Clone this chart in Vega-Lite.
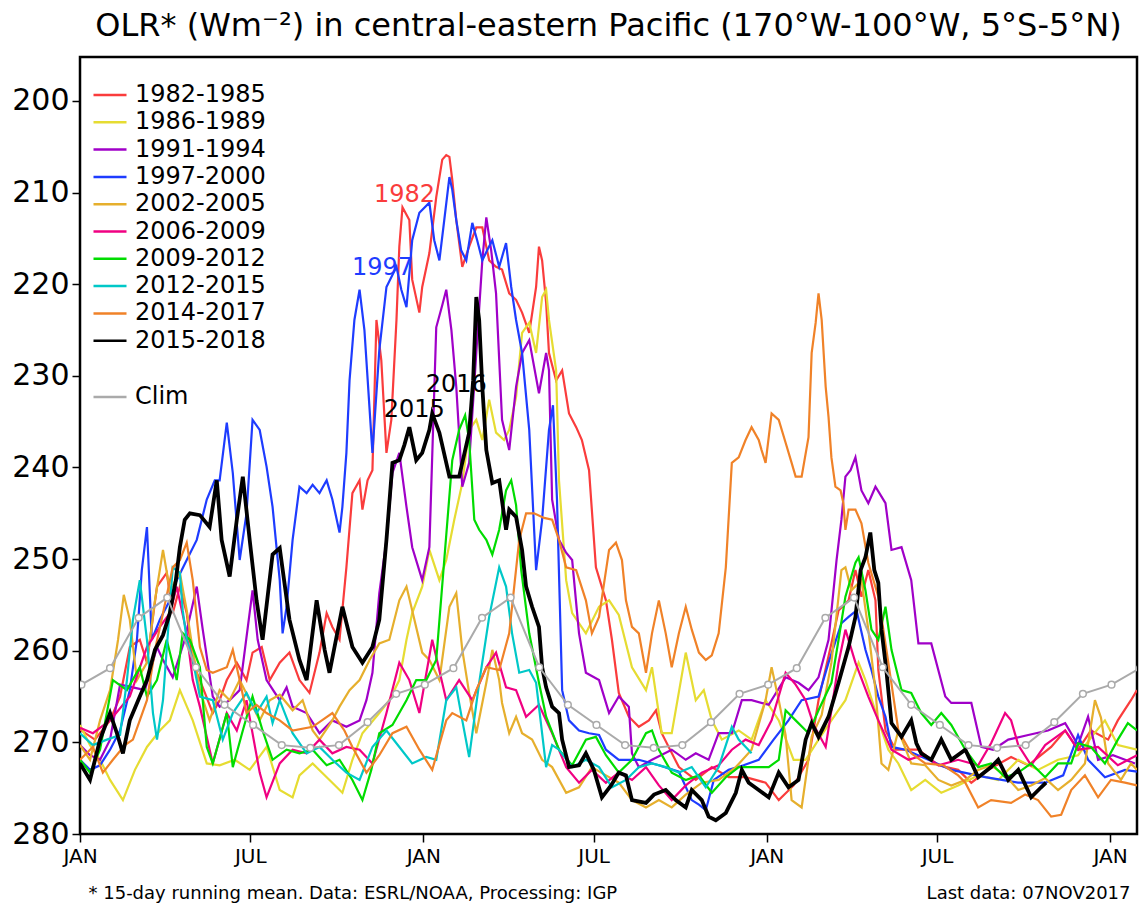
{
"$schema":"https://vega.github.io/schema/vega-lite/v6.json",
"width":1057,"height":777,
"autosize":{"type":"none"},
"padding":{"left":80,"top":57,"right":2,"bottom":73},
"background":"white",
"title":{"text":"OLR* (Wm⁻²) in central-eastern Pacific (170°W-100°W, 5°S-5°N)","font":"DejaVu Sans","fontSize":32,"fontWeight":"normal","color":"black","anchor":"middle","baseline":"bottom","offset":15,"dy":33},
"config":{
"view":{"stroke":"black","strokeWidth":2.5},
"axis":{"grid":false,"domain":false,"labelFont":"DejaVu Sans","titleFont":"DejaVu Sans","labelColor":"black","titleColor":"black","tickColor":"black","tickWidth":1.5},
"legend":{"orient":"none","symbolType":"M-3,0H3","symbolSize":121,"symbolStrokeWidth":2.5,"labelFont":"DejaVu Sans","labelFontSize":24,"labelColor":"black","labelOffset":13,"rowPadding":3.3,"padding":0,"title":null}
},
"datasets":{
"olr":[
{"s":"1982-1985","t":0,"v":268.6},{"s":"1982-1985","t":0.52,"v":269.7},{"s":"1982-1985","t":1.05,"v":267.6},{"s":"1982-1985","t":1.4,"v":265},{"s":"1982-1985","t":1.74,"v":259.6},{"s":"1982-1985","t":2.09,"v":258.8},{"s":"1982-1985","t":2.34,"v":261.3},{"s":"1982-1985","t":2.69,"v":253},{"s":"1982-1985","t":3.03,"v":251.5},{"s":"1982-1985","t":3.24,"v":255.9},{"s":"1982-1985","t":3.49,"v":253},{"s":"1982-1985","t":3.73,"v":255.9},{"s":"1982-1985","t":3.94,"v":261.3},{"s":"1982-1985","t":4.19,"v":263.2},{"s":"1982-1985","t":4.64,"v":266.8},{"s":"1982-1985","t":4.88,"v":265.4},{"s":"1982-1985","t":5.13,"v":263.2},{"s":"1982-1985","t":5.48,"v":261.3},{"s":"1982-1985","t":5.82,"v":263.2},{"s":"1982-1985","t":6.03,"v":260.2},{"s":"1982-1985","t":6.35,"v":259.6},{"s":"1982-1985","t":6.63,"v":263.2},{"s":"1982-1985","t":6.98,"v":261.3},{"s":"1982-1985","t":7.32,"v":260.2},{"s":"1982-1985","t":7.67,"v":263.2},{"s":"1982-1985","t":8.02,"v":264.6},{"s":"1982-1985","t":8.37,"v":260.2},{"s":"1982-1985","t":8.62,"v":255.9},{"s":"1982-1985","t":8.82,"v":257.4},{"s":"1982-1985","t":9.07,"v":258.8},{"s":"1982-1985","t":9.31,"v":250.9},{"s":"1982-1985","t":9.52,"v":242.8},{"s":"1982-1985","t":9.77,"v":241.4},{"s":"1982-1985","t":9.87,"v":244.6},{"s":"1982-1985","t":10.05,"v":241.4},{"s":"1982-1985","t":10.22,"v":240.3},{"s":"1982-1985","t":10.36,"v":223.9},{"s":"1982-1985","t":10.53,"v":228.3},{"s":"1982-1985","t":10.71,"v":238.4},{"s":"1982-1985","t":10.88,"v":234.8},{"s":"1982-1985","t":11.06,"v":223.9},{"s":"1982-1985","t":11.16,"v":215.9},{"s":"1982-1985","t":11.27,"v":211.6},{"s":"1982-1985","t":11.51,"v":213},{"s":"1982-1985","t":11.61,"v":219.5},{"s":"1982-1985","t":11.86,"v":223.1},{"s":"1982-1985","t":11.96,"v":220.3},{"s":"1982-1985","t":12.21,"v":216.6},{"s":"1982-1985","t":12.45,"v":210.5},{"s":"1982-1985","t":12.66,"v":206.4},{"s":"1982-1985","t":12.8,"v":205.9},{"s":"1982-1985","t":12.91,"v":206.1},{"s":"1982-1985","t":13.01,"v":208.6},{"s":"1982-1985","t":13.15,"v":213},{"s":"1982-1985","t":13.36,"v":218.1},{"s":"1982-1985","t":13.6,"v":215.9},{"s":"1982-1985","t":13.85,"v":213.8},{"s":"1982-1985","t":14.06,"v":213.8},{"s":"1982-1985","t":14.3,"v":217.4},{"s":"1982-1985","t":14.54,"v":218.1},{"s":"1982-1985","t":14.75,"v":218.4},{"s":"1982-1985","t":15,"v":221},{"s":"1982-1985","t":15.24,"v":221.7},{"s":"1982-1985","t":15.45,"v":223.1},{"s":"1982-1985","t":15.7,"v":225.3},{"s":"1982-1985","t":15.94,"v":220.3},{"s":"1982-1985","t":16.04,"v":215.9},{"s":"1982-1985","t":16.15,"v":217.4},{"s":"1982-1985","t":16.29,"v":222},{"s":"1982-1985","t":16.39,"v":227.5},{"s":"1982-1985","t":16.64,"v":230.5},{"s":"1982-1985","t":16.85,"v":229.4},{"s":"1982-1985","t":17.09,"v":234.1},{"s":"1982-1985","t":17.34,"v":235.6},{"s":"1982-1985","t":17.54,"v":237},{"s":"1982-1985","t":17.79,"v":240.3},{"s":"1982-1985","t":18.03,"v":250.9},{"s":"1982-1985","t":18.38,"v":254.5},{"s":"1982-1985","t":18.59,"v":258.8},{"s":"1982-1985","t":18.83,"v":264.6},{"s":"1982-1985","t":19.18,"v":267.2},{"s":"1982-1985","t":19.53,"v":268.3},{"s":"1982-1985","t":19.88,"v":267.6},{"s":"1982-1985","t":20.13,"v":266.5},{"s":"1982-1985","t":20.33,"v":269},{"s":"1982-1985","t":20.93,"v":272.7},{"s":"1982-1985","t":21.52,"v":274.1},{"s":"1982-1985","t":22.08,"v":272.7},{"s":"1982-1985","t":22.67,"v":273.8},{"s":"1982-1985","t":23.26,"v":273.8},{"s":"1982-1985","t":23.96,"v":274.4},{"s":"1982-1985","t":24.42,"v":276.3},{"s":"1982-1985","t":24.94,"v":274.7},{"s":"1982-1985","t":25.46,"v":271.9},{"s":"1982-1985","t":25.81,"v":265.4},{"s":"1982-1985","t":26.26,"v":259.2},{"s":"1982-1985","t":26.51,"v":255.6},{"s":"1982-1985","t":26.86,"v":254.5},{"s":"1982-1985","t":27.1,"v":251.2},{"s":"1982-1985","t":27.31,"v":254.1},{"s":"1982-1985","t":27.55,"v":251.2},{"s":"1982-1985","t":27.8,"v":254.5},{"s":"1982-1985","t":27.9,"v":262.1},{"s":"1982-1985","t":28.15,"v":268.7},{"s":"1982-1985","t":28.5,"v":270.8},{"s":"1982-1985","t":29.3,"v":270.8},{"s":"1982-1985","t":30,"v":272.5},{"s":"1982-1985","t":30.69,"v":273},{"s":"1982-1985","t":31.15,"v":274.4},{"s":"1982-1985","t":31.74,"v":273},{"s":"1982-1985","t":32.54,"v":271.6},{"s":"1982-1985","t":33.14,"v":272.5},{"s":"1982-1985","t":33.94,"v":270.5},{"s":"1982-1985","t":34.43,"v":268.7},{"s":"1982-1985","t":34.88,"v":270.8},{"s":"1982-1985","t":35.33,"v":268.7},{"s":"1982-1985","t":35.93,"v":269.7},{"s":"1982-1985","t":36.27,"v":267.6},{"s":"1982-1985","t":36.73,"v":265.4},{"s":"1982-1985","t":36.94,"v":264.3},
{"s":"1986-1989","t":0,"v":268.1},{"s":"1986-1989","t":0.35,"v":270.3},{"s":"1986-1989","t":0.7,"v":271.9},{"s":"1986-1989","t":1.05,"v":274.1},{"s":"1986-1989","t":1.5,"v":276.3},{"s":"1986-1989","t":1.92,"v":273},{"s":"1986-1989","t":2.34,"v":270.5},{"s":"1986-1989","t":2.79,"v":268.7},{"s":"1986-1989","t":3.14,"v":267.6},{"s":"1986-1989","t":3.49,"v":264.3},{"s":"1986-1989","t":3.94,"v":267.6},{"s":"1986-1989","t":4.43,"v":272.3},{"s":"1986-1989","t":4.88,"v":272.5},{"s":"1986-1989","t":5.41,"v":271.9},{"s":"1986-1989","t":5.93,"v":273},{"s":"1986-1989","t":6.52,"v":270.5},{"s":"1986-1989","t":6.98,"v":275.2},{"s":"1986-1989","t":7.43,"v":276},{"s":"1986-1989","t":7.67,"v":273.6},{"s":"1986-1989","t":8.13,"v":272.3},{"s":"1986-1989","t":8.72,"v":274.1},{"s":"1986-1989","t":9.17,"v":275.5},{"s":"1986-1989","t":9.52,"v":271.9},{"s":"1986-1989","t":9.87,"v":269},{"s":"1986-1989","t":10.46,"v":266.8},{"s":"1986-1989","t":10.81,"v":265.4},{"s":"1986-1989","t":11.16,"v":263.2},{"s":"1986-1989","t":11.41,"v":258.8},{"s":"1986-1989","t":11.61,"v":255.9},{"s":"1986-1989","t":11.96,"v":253},{"s":"1986-1989","t":12.21,"v":249},{"s":"1986-1989","t":12.56,"v":252.3},{"s":"1986-1989","t":12.8,"v":250.1},{"s":"1986-1989","t":13.08,"v":245.7},{"s":"1986-1989","t":13.36,"v":241.7},{"s":"1986-1989","t":13.6,"v":235.9},{"s":"1986-1989","t":13.85,"v":234.8},{"s":"1986-1989","t":14.06,"v":237},{"s":"1986-1989","t":14.3,"v":232.6},{"s":"1986-1989","t":14.54,"v":236.2},{"s":"1986-1989","t":14.82,"v":237},{"s":"1986-1989","t":15,"v":235.9},{"s":"1986-1989","t":15.24,"v":232.3},{"s":"1986-1989","t":15.45,"v":225.3},{"s":"1986-1989","t":15.7,"v":224.2},{"s":"1986-1989","t":15.94,"v":227.5},{"s":"1986-1989","t":16.15,"v":221.4},{"s":"1986-1989","t":16.29,"v":220.6},{"s":"1986-1989","t":16.39,"v":223.9},{"s":"1986-1989","t":16.64,"v":229.4},{"s":"1986-1989","t":16.74,"v":241.4},{"s":"1986-1989","t":16.99,"v":252.3},{"s":"1986-1989","t":17.2,"v":255.9},{"s":"1986-1989","t":17.68,"v":258.1},{"s":"1986-1989","t":18.14,"v":255.2},{"s":"1986-1989","t":18.49,"v":254.5},{"s":"1986-1989","t":18.83,"v":256.1},{"s":"1986-1989","t":19.29,"v":261.8},{"s":"1986-1989","t":19.78,"v":264.3},{"s":"1986-1989","t":19.99,"v":261.8},{"s":"1986-1989","t":20.33,"v":269},{"s":"1986-1989","t":20.68,"v":269},{"s":"1986-1989","t":21.17,"v":260.2},{"s":"1986-1989","t":21.52,"v":265.4},{"s":"1986-1989","t":21.8,"v":264.3},{"s":"1986-1989","t":22.08,"v":267.6},{"s":"1986-1989","t":22.43,"v":269.7},{"s":"1986-1989","t":23.02,"v":268.7},{"s":"1986-1989","t":23.47,"v":269.7},{"s":"1986-1989","t":23.96,"v":265.4},{"s":"1986-1989","t":24.42,"v":267.6},{"s":"1986-1989","t":24.94,"v":271.9},{"s":"1986-1989","t":25.36,"v":271.9},{"s":"1986-1989","t":25.81,"v":269.7},{"s":"1986-1989","t":26.26,"v":267.6},{"s":"1986-1989","t":26.75,"v":265.4},{"s":"1986-1989","t":27.21,"v":261.3},{"s":"1986-1989","t":27.45,"v":263.2},{"s":"1986-1989","t":27.9,"v":267.6},{"s":"1986-1989","t":28.25,"v":270.8},{"s":"1986-1989","t":28.6,"v":272.3},{"s":"1986-1989","t":29.05,"v":275.2},{"s":"1986-1989","t":29.54,"v":274.1},{"s":"1986-1989","t":30.1,"v":275.5},{"s":"1986-1989","t":30.69,"v":274.7},{"s":"1986-1989","t":31.39,"v":273.6},{"s":"1986-1989","t":32.09,"v":274.1},{"s":"1986-1989","t":32.79,"v":271.9},{"s":"1986-1989","t":33.48,"v":273},{"s":"1986-1989","t":34.18,"v":271.9},{"s":"1986-1989","t":34.88,"v":271.4},{"s":"1986-1989","t":35.4,"v":269.2},{"s":"1986-1989","t":35.82,"v":267.6},{"s":"1986-1989","t":36.27,"v":270.3},{"s":"1986-1989","t":36.94,"v":270.8},
{"s":"1991-1994","t":0,"v":270.3},{"s":"1991-1994","t":0.35,"v":271.4},{"s":"1991-1994","t":0.7,"v":271.9},{"s":"1991-1994","t":1.05,"v":269.7},{"s":"1991-1994","t":1.4,"v":263.7},{"s":"1991-1994","t":1.85,"v":264},{"s":"1991-1994","t":2.27,"v":264.3},{"s":"1991-1994","t":2.69,"v":259.6},{"s":"1991-1994","t":2.9,"v":261},{"s":"1991-1994","t":3.24,"v":262.9},{"s":"1991-1994","t":3.66,"v":258.8},{"s":"1991-1994","t":4.08,"v":253},{"s":"1991-1994","t":4.29,"v":257.7},{"s":"1991-1994","t":4.64,"v":265},{"s":"1991-1994","t":4.88,"v":266.1},{"s":"1991-1994","t":5.23,"v":265.4},{"s":"1991-1994","t":5.58,"v":264.3},{"s":"1991-1994","t":6.03,"v":253.4},{"s":"1991-1994","t":6.21,"v":258.8},{"s":"1991-1994","t":6.52,"v":263.2},{"s":"1991-1994","t":6.98,"v":265.4},{"s":"1991-1994","t":7.22,"v":264},{"s":"1991-1994","t":7.43,"v":266.1},{"s":"1991-1994","t":7.92,"v":266.8},{"s":"1991-1994","t":8.37,"v":269},{"s":"1991-1994","t":8.82,"v":267.6},{"s":"1991-1994","t":9.31,"v":268.3},{"s":"1991-1994","t":9.77,"v":267.6},{"s":"1991-1994","t":10.01,"v":265.4},{"s":"1991-1994","t":10.22,"v":262.4},{"s":"1991-1994","t":10.46,"v":253.7},{"s":"1991-1994","t":10.71,"v":247.9},{"s":"1991-1994","t":10.92,"v":240.6},{"s":"1991-1994","t":11.16,"v":238.4},{"s":"1991-1994","t":11.41,"v":244.3},{"s":"1991-1994","t":11.61,"v":248.7},{"s":"1991-1994","t":11.96,"v":252.3},{"s":"1991-1994","t":12.21,"v":248.7},{"s":"1991-1994","t":12.45,"v":224.7},{"s":"1991-1994","t":12.66,"v":222.3},{"s":"1991-1994","t":12.8,"v":220.6},{"s":"1991-1994","t":12.98,"v":225},{"s":"1991-1994","t":13.15,"v":231.2},{"s":"1991-1994","t":13.36,"v":242.1},{"s":"1991-1994","t":13.6,"v":239.5},{"s":"1991-1994","t":13.85,"v":227.5},{"s":"1991-1994","t":14.06,"v":217.4},{"s":"1991-1994","t":14.2,"v":212.7},{"s":"1991-1994","t":14.37,"v":216.3},{"s":"1991-1994","t":14.54,"v":221},{"s":"1991-1994","t":14.75,"v":234.8},{"s":"1991-1994","t":15,"v":238.1},{"s":"1991-1994","t":15.24,"v":231.2},{"s":"1991-1994","t":15.45,"v":227.5},{"s":"1991-1994","t":15.7,"v":226.1},{"s":"1991-1994","t":16.04,"v":231.9},{"s":"1991-1994","t":16.29,"v":227.5},{"s":"1991-1994","t":16.39,"v":229.4},{"s":"1991-1994","t":16.5,"v":243.5},{"s":"1991-1994","t":16.74,"v":247.9},{"s":"1991-1994","t":16.99,"v":249.3},{"s":"1991-1994","t":17.2,"v":250.1},{"s":"1991-1994","t":17.44,"v":258.1},{"s":"1991-1994","t":17.68,"v":262.4},{"s":"1991-1994","t":18.14,"v":263.2},{"s":"1991-1994","t":18.49,"v":266.8},{"s":"1991-1994","t":18.83,"v":265},{"s":"1991-1994","t":19.18,"v":266.1},{"s":"1991-1994","t":19.29,"v":271.2},{"s":"1991-1994","t":19.53,"v":272.7},{"s":"1991-1994","t":19.99,"v":271.9},{"s":"1991-1994","t":20.68,"v":270.8},{"s":"1991-1994","t":21.17,"v":271.9},{"s":"1991-1994","t":21.52,"v":271.2},{"s":"1991-1994","t":21.97,"v":271.9},{"s":"1991-1994","t":22.32,"v":269},{"s":"1991-1994","t":22.78,"v":269},{"s":"1991-1994","t":23.13,"v":265.4},{"s":"1991-1994","t":23.47,"v":265.4},{"s":"1991-1994","t":24.07,"v":265.9},{"s":"1991-1994","t":24.66,"v":262.9},{"s":"1991-1994","t":25.11,"v":263.5},{"s":"1991-1994","t":25.46,"v":264.3},{"s":"1991-1994","t":25.81,"v":262.9},{"s":"1991-1994","t":26.16,"v":258.8},{"s":"1991-1994","t":26.44,"v":250.1},{"s":"1991-1994","t":26.61,"v":245.7},{"s":"1991-1994","t":26.75,"v":241},{"s":"1991-1994","t":26.93,"v":240.3},{"s":"1991-1994","t":27.1,"v":238.9},{"s":"1991-1994","t":27.31,"v":242.5},{"s":"1991-1994","t":27.55,"v":243.9},{"s":"1991-1994","t":27.8,"v":242.1},{"s":"1991-1994","t":28.15,"v":243.9},{"s":"1991-1994","t":28.36,"v":249},{"s":"1991-1994","t":28.71,"v":248.7},{"s":"1991-1994","t":29.05,"v":252.3},{"s":"1991-1994","t":29.3,"v":259.2},{"s":"1991-1994","t":29.75,"v":259.2},{"s":"1991-1994","t":30.24,"v":265},{"s":"1991-1994","t":30.45,"v":265.7},{"s":"1991-1994","t":31.15,"v":265.7},{"s":"1991-1994","t":31.5,"v":270.5},{"s":"1991-1994","t":31.91,"v":270.8},{"s":"1991-1994","t":32.44,"v":269.7},{"s":"1991-1994","t":33.14,"v":269.2},{"s":"1991-1994","t":33.83,"v":268.7},{"s":"1991-1994","t":34.43,"v":267.9},{"s":"1991-1994","t":34.88,"v":270.3},{"s":"1991-1994","t":35.23,"v":267.2},{"s":"1991-1994","t":35.58,"v":271.9},{"s":"1991-1994","t":36.1,"v":271.4},{"s":"1991-1994","t":36.87,"v":272.3},
{"s":"1997-2000","t":0,"v":271.9},{"s":"1997-2000","t":0.35,"v":273},{"s":"1997-2000","t":0.7,"v":272.5},{"s":"1997-2000","t":1.05,"v":270.8},{"s":"1997-2000","t":1.4,"v":268.7},{"s":"1997-2000","t":1.74,"v":264.3},{"s":"1997-2000","t":1.99,"v":258.8},{"s":"1997-2000","t":2.16,"v":251.2},{"s":"1997-2000","t":2.34,"v":246.5},{"s":"1997-2000","t":2.51,"v":258.8},{"s":"1997-2000","t":2.79,"v":256.6},{"s":"1997-2000","t":3.14,"v":254.5},{"s":"1997-2000","t":3.38,"v":252.3},{"s":"1997-2000","t":3.73,"v":250.1},{"s":"1997-2000","t":4.08,"v":247.9},{"s":"1997-2000","t":4.43,"v":243.5},{"s":"1997-2000","t":4.71,"v":241.4},{"s":"1997-2000","t":4.88,"v":241.4},{"s":"1997-2000","t":5.13,"v":235.1},{"s":"1997-2000","t":5.34,"v":240.6},{"s":"1997-2000","t":5.58,"v":250.1},{"s":"1997-2000","t":5.82,"v":245},{"s":"1997-2000","t":6.03,"v":234.8},{"s":"1997-2000","t":6.28,"v":235.9},{"s":"1997-2000","t":6.52,"v":239.9},{"s":"1997-2000","t":6.73,"v":244.3},{"s":"1997-2000","t":6.98,"v":252.3},{"s":"1997-2000","t":7.08,"v":258.1},{"s":"1997-2000","t":7.22,"v":255.2},{"s":"1997-2000","t":7.43,"v":247.9},{"s":"1997-2000","t":7.67,"v":242.1},{"s":"1997-2000","t":7.92,"v":242.8},{"s":"1997-2000","t":8.13,"v":241.9},{"s":"1997-2000","t":8.37,"v":242.8},{"s":"1997-2000","t":8.62,"v":241.4},{"s":"1997-2000","t":8.82,"v":243.5},{"s":"1997-2000","t":9.07,"v":247.1},{"s":"1997-2000","t":9.17,"v":244.3},{"s":"1997-2000","t":9.31,"v":238.4},{"s":"1997-2000","t":9.42,"v":230.5},{"s":"1997-2000","t":9.59,"v":223.9},{"s":"1997-2000","t":9.77,"v":220.6},{"s":"1997-2000","t":9.94,"v":225},{"s":"1997-2000","t":10.22,"v":238.4},{"s":"1997-2000","t":10.46,"v":227.2},{"s":"1997-2000","t":10.71,"v":220.3},{"s":"1997-2000","t":11.06,"v":218.1},{"s":"1997-2000","t":11.23,"v":220.6},{"s":"1997-2000","t":11.41,"v":222.5},{"s":"1997-2000","t":11.61,"v":215.2},{"s":"1997-2000","t":11.86,"v":212.2},{"s":"1997-2000","t":12.21,"v":211.1},{"s":"1997-2000","t":12.38,"v":215.2},{"s":"1997-2000","t":12.56,"v":217.4},{"s":"1997-2000","t":12.73,"v":213},{"s":"1997-2000","t":12.91,"v":208.3},{"s":"1997-2000","t":13.01,"v":209.7},{"s":"1997-2000","t":13.15,"v":213},{"s":"1997-2000","t":13.32,"v":216.3},{"s":"1997-2000","t":13.5,"v":217.4},{"s":"1997-2000","t":13.71,"v":213.3},{"s":"1997-2000","t":13.88,"v":215.2},{"s":"1997-2000","t":14.06,"v":217.4},{"s":"1997-2000","t":14.23,"v":216.3},{"s":"1997-2000","t":14.41,"v":215.2},{"s":"1997-2000","t":14.65,"v":218.1},{"s":"1997-2000","t":14.89,"v":215.5},{"s":"1997-2000","t":15.07,"v":220.3},{"s":"1997-2000","t":15.24,"v":223.9},{"s":"1997-2000","t":15.45,"v":227.5},{"s":"1997-2000","t":15.7,"v":235.9},{"s":"1997-2000","t":15.94,"v":251.2},{"s":"1997-2000","t":16.15,"v":245.7},{"s":"1997-2000","t":16.39,"v":235.9},{"s":"1997-2000","t":16.53,"v":233.2},{"s":"1997-2000","t":16.67,"v":243.5},{"s":"1997-2000","t":16.85,"v":264.3},{"s":"1997-2000","t":17.09,"v":267.6},{"s":"1997-2000","t":17.44,"v":268.7},{"s":"1997-2000","t":17.79,"v":269},{"s":"1997-2000","t":18.14,"v":269.2},{"s":"1997-2000","t":18.38,"v":270.8},{"s":"1997-2000","t":18.83,"v":271.9},{"s":"1997-2000","t":19.53,"v":271.9},{"s":"1997-2000","t":20.23,"v":272.5},{"s":"1997-2000","t":20.93,"v":273.2},{"s":"1997-2000","t":21.38,"v":276.3},{"s":"1997-2000","t":21.63,"v":276.8},{"s":"1997-2000","t":21.87,"v":277.4},{"s":"1997-2000","t":22.15,"v":274.1},{"s":"1997-2000","t":22.67,"v":273},{"s":"1997-2000","t":23.19,"v":272.5},{"s":"1997-2000","t":23.72,"v":271.9},{"s":"1997-2000","t":24.24,"v":269.7},{"s":"1997-2000","t":24.76,"v":267.6},{"s":"1997-2000","t":25.22,"v":265.4},{"s":"1997-2000","t":25.81,"v":265},{"s":"1997-2000","t":26.16,"v":261.3},{"s":"1997-2000","t":26.61,"v":257},{"s":"1997-2000","t":26.86,"v":256.3},{"s":"1997-2000","t":27.14,"v":255.6},{"s":"1997-2000","t":27.45,"v":259.9},{"s":"1997-2000","t":27.66,"v":262.1},{"s":"1997-2000","t":27.9,"v":265},{"s":"1997-2000","t":28.15,"v":267.2},{"s":"1997-2000","t":28.36,"v":270.5},{"s":"1997-2000","t":28.85,"v":270.8},{"s":"1997-2000","t":29.65,"v":271.9},{"s":"1997-2000","t":30.45,"v":273},{"s":"1997-2000","t":31.64,"v":273.8},{"s":"1997-2000","t":32.79,"v":274.4},{"s":"1997-2000","t":33.73,"v":274.4},{"s":"1997-2000","t":34.36,"v":273.6},{"s":"1997-2000","t":34.88,"v":269.2},{"s":"1997-2000","t":35.23,"v":271.9},{"s":"1997-2000","t":35.82,"v":273.8},{"s":"1997-2000","t":36.52,"v":273},{"s":"1997-2000","t":36.94,"v":273.2},
{"s":"2002-2005","t":0,"v":270.3},{"s":"2002-2005","t":0.35,"v":271.9},{"s":"2002-2005","t":0.7,"v":267.6},{"s":"2002-2005","t":1.05,"v":264.3},{"s":"2002-2005","t":1.33,"v":258.8},{"s":"2002-2005","t":1.53,"v":253.9},{"s":"2002-2005","t":1.74,"v":256.6},{"s":"2002-2005","t":1.99,"v":263.2},{"s":"2002-2005","t":2.34,"v":261.3},{"s":"2002-2005","t":2.62,"v":254.5},{"s":"2002-2005","t":2.9,"v":249},{"s":"2002-2005","t":3.14,"v":253.4},{"s":"2002-2005","t":3.49,"v":251.5},{"s":"2002-2005","t":3.73,"v":255.6},{"s":"2002-2005","t":3.94,"v":259.9},{"s":"2002-2005","t":4.19,"v":264.3},{"s":"2002-2005","t":4.53,"v":267.6},{"s":"2002-2005","t":4.88,"v":264.3},{"s":"2002-2005","t":5.23,"v":265.4},{"s":"2002-2005","t":5.58,"v":263.2},{"s":"2002-2005","t":5.93,"v":265.4},{"s":"2002-2005","t":6.28,"v":267.6},{"s":"2002-2005","t":6.63,"v":265.4},{"s":"2002-2005","t":6.98,"v":264.8},{"s":"2002-2005","t":7.43,"v":266.5},{"s":"2002-2005","t":7.78,"v":265.4},{"s":"2002-2005","t":8.13,"v":268.7},{"s":"2002-2005","t":8.37,"v":269.7},{"s":"2002-2005","t":8.82,"v":267.6},{"s":"2002-2005","t":9.07,"v":266.1},{"s":"2002-2005","t":9.42,"v":264.3},{"s":"2002-2005","t":9.77,"v":263.2},{"s":"2002-2005","t":10.12,"v":261},{"s":"2002-2005","t":10.46,"v":259.2},{"s":"2002-2005","t":10.81,"v":258.8},{"s":"2002-2005","t":11.16,"v":254.5},{"s":"2002-2005","t":11.41,"v":253},{"s":"2002-2005","t":11.61,"v":255.6},{"s":"2002-2005","t":11.96,"v":260.2},{"s":"2002-2005","t":12.21,"v":261},{"s":"2002-2005","t":12.56,"v":263.2},{"s":"2002-2005","t":12.91,"v":255.2},{"s":"2002-2005","t":13.15,"v":253.7},{"s":"2002-2005","t":13.36,"v":259.9},{"s":"2002-2005","t":13.6,"v":264.6},{"s":"2002-2005","t":13.85,"v":269},{"s":"2002-2005","t":14.2,"v":263.5},{"s":"2002-2005","t":14.41,"v":259.9},{"s":"2002-2005","t":14.65,"v":263.2},{"s":"2002-2005","t":14.75,"v":265.7},{"s":"2002-2005","t":15,"v":269},{"s":"2002-2005","t":15.24,"v":267.2},{"s":"2002-2005","t":15.45,"v":269},{"s":"2002-2005","t":15.8,"v":269.7},{"s":"2002-2005","t":16.15,"v":271.9},{"s":"2002-2005","t":16.5,"v":272.7},{"s":"2002-2005","t":16.99,"v":275.5},{"s":"2002-2005","t":17.44,"v":274.9},{"s":"2002-2005","t":17.89,"v":272.7},{"s":"2002-2005","t":18.38,"v":273.6},{"s":"2002-2005","t":18.83,"v":274.4},{"s":"2002-2005","t":19.29,"v":276.3},{"s":"2002-2005","t":19.78,"v":277.1},{"s":"2002-2005","t":20.23,"v":276.3},{"s":"2002-2005","t":20.68,"v":277.1},{"s":"2002-2005","t":21.17,"v":275.7},{"s":"2002-2005","t":21.73,"v":274.4},{"s":"2002-2005","t":22.32,"v":274.1},{"s":"2002-2005","t":22.92,"v":272.7},{"s":"2002-2005","t":23.47,"v":270.8},{"s":"2002-2005","t":23.96,"v":265.4},{"s":"2002-2005","t":24.17,"v":261.8},{"s":"2002-2005","t":24.42,"v":265.4},{"s":"2002-2005","t":24.66,"v":269.2},{"s":"2002-2005","t":24.87,"v":276.3},{"s":"2002-2005","t":25.22,"v":277.1},{"s":"2002-2005","t":25.57,"v":269.4},{"s":"2002-2005","t":25.92,"v":267},{"s":"2002-2005","t":26.26,"v":261.3},{"s":"2002-2005","t":26.61,"v":251.2},{"s":"2002-2005","t":26.75,"v":250.9},{"s":"2002-2005","t":26.96,"v":253.4},{"s":"2002-2005","t":27.31,"v":252.3},{"s":"2002-2005","t":27.55,"v":257.7},{"s":"2002-2005","t":27.8,"v":264.3},{"s":"2002-2005","t":28.01,"v":272.3},{"s":"2002-2005","t":28.25,"v":273},{"s":"2002-2005","t":28.6,"v":268.7},{"s":"2002-2005","t":29.05,"v":272.3},{"s":"2002-2005","t":29.54,"v":272.5},{"s":"2002-2005","t":30,"v":274.1},{"s":"2002-2005","t":30.45,"v":274.7},{"s":"2002-2005","t":30.94,"v":274.1},{"s":"2002-2005","t":31.39,"v":273},{"s":"2002-2005","t":31.84,"v":272.5},{"s":"2002-2005","t":32.33,"v":273.6},{"s":"2002-2005","t":32.79,"v":275.2},{"s":"2002-2005","t":33.24,"v":274.7},{"s":"2002-2005","t":33.73,"v":273.9},{"s":"2002-2005","t":34.18,"v":275.2},{"s":"2002-2005","t":34.64,"v":274.1},{"s":"2002-2005","t":35.12,"v":272.3},{"s":"2002-2005","t":35.47,"v":265.4},{"s":"2002-2005","t":35.68,"v":267.3},{"s":"2002-2005","t":35.93,"v":272.3},{"s":"2002-2005","t":36.38,"v":274.1},{"s":"2002-2005","t":36.73,"v":272.3},{"s":"2002-2005","t":36.94,"v":273},
{"s":"2006-2009","t":0,"v":268.4},{"s":"2006-2009","t":0.45,"v":269},{"s":"2006-2009","t":1.05,"v":267.6},{"s":"2006-2009","t":1.74,"v":265},{"s":"2006-2009","t":2.34,"v":259.6},{"s":"2006-2009","t":2.79,"v":257.4},{"s":"2006-2009","t":3.14,"v":255.9},{"s":"2006-2009","t":3.38,"v":253},{"s":"2006-2009","t":3.73,"v":258.1},{"s":"2006-2009","t":3.94,"v":263.2},{"s":"2006-2009","t":4.19,"v":266.1},{"s":"2006-2009","t":4.64,"v":272.3},{"s":"2006-2009","t":5.13,"v":266.8},{"s":"2006-2009","t":5.48,"v":268.7},{"s":"2006-2009","t":5.82,"v":265.4},{"s":"2006-2009","t":6.28,"v":273.3},{"s":"2006-2009","t":6.52,"v":276},{"s":"2006-2009","t":6.98,"v":272.3},{"s":"2006-2009","t":7.43,"v":270.8},{"s":"2006-2009","t":7.92,"v":271.2},{"s":"2006-2009","t":8.37,"v":269.7},{"s":"2006-2009","t":8.82,"v":271.2},{"s":"2006-2009","t":9.31,"v":270.5},{"s":"2006-2009","t":9.77,"v":270.8},{"s":"2006-2009","t":10.22,"v":272.3},{"s":"2006-2009","t":10.71,"v":266.8},{"s":"2006-2009","t":11.16,"v":261.3},{"s":"2006-2009","t":11.51,"v":263.2},{"s":"2006-2009","t":11.86,"v":266.8},{"s":"2006-2009","t":12.31,"v":258.8},{"s":"2006-2009","t":12.8,"v":265.4},{"s":"2006-2009","t":13.25,"v":263.2},{"s":"2006-2009","t":13.71,"v":265.4},{"s":"2006-2009","t":14.2,"v":261.8},{"s":"2006-2009","t":14.54,"v":260.2},{"s":"2006-2009","t":14.89,"v":264},{"s":"2006-2009","t":15.24,"v":264.3},{"s":"2006-2009","t":15.59,"v":267.2},{"s":"2006-2009","t":16.04,"v":265.9},{"s":"2006-2009","t":16.5,"v":269},{"s":"2006-2009","t":16.99,"v":272.7},{"s":"2006-2009","t":17.44,"v":274.4},{"s":"2006-2009","t":17.89,"v":273},{"s":"2006-2009","t":18.38,"v":274.4},{"s":"2006-2009","t":18.83,"v":273.3},{"s":"2006-2009","t":19.29,"v":274.1},{"s":"2006-2009","t":19.78,"v":272.7},{"s":"2006-2009","t":20.23,"v":274.7},{"s":"2006-2009","t":20.68,"v":276.3},{"s":"2006-2009","t":21.17,"v":274.7},{"s":"2006-2009","t":21.73,"v":273.3},{"s":"2006-2009","t":22.32,"v":272.5},{"s":"2006-2009","t":22.78,"v":270.8},{"s":"2006-2009","t":23.26,"v":269.7},{"s":"2006-2009","t":23.72,"v":270.3},{"s":"2006-2009","t":24.17,"v":267.6},{"s":"2006-2009","t":24.66,"v":262.4},{"s":"2006-2009","t":25.01,"v":263.7},{"s":"2006-2009","t":25.36,"v":265.4},{"s":"2006-2009","t":25.64,"v":268.1},{"s":"2006-2009","t":26.06,"v":270.5},{"s":"2006-2009","t":26.26,"v":266.5},{"s":"2006-2009","t":26.51,"v":261.3},{"s":"2006-2009","t":26.75,"v":257.7},{"s":"2006-2009","t":27.1,"v":261.3},{"s":"2006-2009","t":27.55,"v":265},{"s":"2006-2009","t":27.9,"v":267.6},{"s":"2006-2009","t":28.36,"v":270.8},{"s":"2006-2009","t":28.95,"v":271.9},{"s":"2006-2009","t":29.47,"v":271.4},{"s":"2006-2009","t":30,"v":272.5},{"s":"2006-2009","t":30.69,"v":271.9},{"s":"2006-2009","t":31.39,"v":272.5},{"s":"2006-2009","t":31.84,"v":270.1},{"s":"2006-2009","t":32.33,"v":266.8},{"s":"2006-2009","t":32.54,"v":267.6},{"s":"2006-2009","t":32.79,"v":270.3},{"s":"2006-2009","t":33.24,"v":272.5},{"s":"2006-2009","t":33.73,"v":270.3},{"s":"2006-2009","t":34.43,"v":268.7},{"s":"2006-2009","t":34.88,"v":270.8},{"s":"2006-2009","t":35.58,"v":270.5},{"s":"2006-2009","t":36.27,"v":272.5},{"s":"2006-2009","t":36.94,"v":271.4},
{"s":"2009-2012","t":0,"v":271.9},{"s":"2009-2012","t":0.35,"v":273.3},{"s":"2009-2012","t":0.7,"v":270.8},{"s":"2009-2012","t":1.15,"v":263.2},{"s":"2009-2012","t":1.64,"v":264.3},{"s":"2009-2012","t":2.09,"v":261.8},{"s":"2009-2012","t":2.34,"v":265},{"s":"2009-2012","t":2.69,"v":263.2},{"s":"2009-2012","t":3.03,"v":258.8},{"s":"2009-2012","t":3.38,"v":263.2},{"s":"2009-2012","t":3.59,"v":258.1},{"s":"2009-2012","t":3.84,"v":258.8},{"s":"2009-2012","t":4.19,"v":261.8},{"s":"2009-2012","t":4.43,"v":270.5},{"s":"2009-2012","t":4.64,"v":272.3},{"s":"2009-2012","t":5.13,"v":266.8},{"s":"2009-2012","t":5.34,"v":272.7},{"s":"2009-2012","t":5.69,"v":268.7},{"s":"2009-2012","t":6.03,"v":265},{"s":"2009-2012","t":6.38,"v":268.7},{"s":"2009-2012","t":6.73,"v":271.9},{"s":"2009-2012","t":7.22,"v":270.8},{"s":"2009-2012","t":7.67,"v":271.2},{"s":"2009-2012","t":8.13,"v":270.8},{"s":"2009-2012","t":8.62,"v":272.5},{"s":"2009-2012","t":9.07,"v":271.9},{"s":"2009-2012","t":9.52,"v":274.1},{"s":"2009-2012","t":9.87,"v":276.3},{"s":"2009-2012","t":10.18,"v":273},{"s":"2009-2012","t":10.46,"v":269},{"s":"2009-2012","t":10.92,"v":268.1},{"s":"2009-2012","t":11.41,"v":265.4},{"s":"2009-2012","t":11.75,"v":263.2},{"s":"2009-2012","t":12.1,"v":263.2},{"s":"2009-2012","t":12.45,"v":261},{"s":"2009-2012","t":12.73,"v":250.1},{"s":"2009-2012","t":13.01,"v":239.2},{"s":"2009-2012","t":13.25,"v":235.9},{"s":"2009-2012","t":13.46,"v":234.3},{"s":"2009-2012","t":13.6,"v":237},{"s":"2009-2012","t":13.78,"v":245.7},{"s":"2009-2012","t":13.95,"v":246.8},{"s":"2009-2012","t":14.2,"v":247.9},{"s":"2009-2012","t":14.41,"v":249.5},{"s":"2009-2012","t":14.65,"v":246.8},{"s":"2009-2012","t":14.89,"v":242.5},{"s":"2009-2012","t":15.07,"v":241.4},{"s":"2009-2012","t":15.24,"v":244.1},{"s":"2009-2012","t":15.42,"v":251.2},{"s":"2009-2012","t":15.7,"v":258.1},{"s":"2009-2012","t":16.04,"v":263.5},{"s":"2009-2012","t":16.29,"v":267.2},{"s":"2009-2012","t":16.74,"v":270.8},{"s":"2009-2012","t":17.2,"v":272.5},{"s":"2009-2012","t":17.68,"v":269.7},{"s":"2009-2012","t":18.03,"v":269.4},{"s":"2009-2012","t":18.38,"v":271.4},{"s":"2009-2012","t":18.83,"v":273.3},{"s":"2009-2012","t":19.29,"v":271.9},{"s":"2009-2012","t":19.78,"v":269},{"s":"2009-2012","t":19.99,"v":268.7},{"s":"2009-2012","t":20.23,"v":270.8},{"s":"2009-2012","t":20.68,"v":273.3},{"s":"2009-2012","t":21.17,"v":274.1},{"s":"2009-2012","t":21.63,"v":273.6},{"s":"2009-2012","t":22.08,"v":275.5},{"s":"2009-2012","t":22.57,"v":273.8},{"s":"2009-2012","t":23.02,"v":272.7},{"s":"2009-2012","t":23.54,"v":272.7},{"s":"2009-2012","t":24.07,"v":272.7},{"s":"2009-2012","t":24.42,"v":271.9},{"s":"2009-2012","t":24.66,"v":266.5},{"s":"2009-2012","t":25.01,"v":267.6},{"s":"2009-2012","t":25.46,"v":269},{"s":"2009-2012","t":25.81,"v":266.5},{"s":"2009-2012","t":26.26,"v":263.5},{"s":"2009-2012","t":26.51,"v":258.8},{"s":"2009-2012","t":26.75,"v":254.1},{"s":"2009-2012","t":27.1,"v":250.4},{"s":"2009-2012","t":27.21,"v":249.8},{"s":"2009-2012","t":27.45,"v":253.4},{"s":"2009-2012","t":27.66,"v":257.7},{"s":"2009-2012","t":27.9,"v":258.8},{"s":"2009-2012","t":28.15,"v":255.2},{"s":"2009-2012","t":28.36,"v":259.9},{"s":"2009-2012","t":28.71,"v":264.3},{"s":"2009-2012","t":29.05,"v":264.6},{"s":"2009-2012","t":29.4,"v":266.8},{"s":"2009-2012","t":29.75,"v":268.1},{"s":"2009-2012","t":30.1,"v":266.8},{"s":"2009-2012","t":30.45,"v":268.1},{"s":"2009-2012","t":30.94,"v":270.8},{"s":"2009-2012","t":31.39,"v":272.7},{"s":"2009-2012","t":31.84,"v":272.3},{"s":"2009-2012","t":32.33,"v":273.8},{"s":"2009-2012","t":32.79,"v":273.3},{"s":"2009-2012","t":33.24,"v":272.3},{"s":"2009-2012","t":33.73,"v":273.8},{"s":"2009-2012","t":34.18,"v":272.3},{"s":"2009-2012","t":34.64,"v":272.3},{"s":"2009-2012","t":34.88,"v":270.1},{"s":"2009-2012","t":35.33,"v":270.5},{"s":"2009-2012","t":35.82,"v":272.3},{"s":"2009-2012","t":36.27,"v":269.7},{"s":"2009-2012","t":36.62,"v":267.9},{"s":"2009-2012","t":36.94,"v":268.7},
{"s":"2012-2015","t":0,"v":269},{"s":"2012-2015","t":0.45,"v":270.3},{"s":"2012-2015","t":0.94,"v":269.7},{"s":"2012-2015","t":1.4,"v":269.2},{"s":"2012-2015","t":1.64,"v":263.2},{"s":"2012-2015","t":1.85,"v":256.6},{"s":"2012-2015","t":2.09,"v":252.3},{"s":"2012-2015","t":2.34,"v":258.8},{"s":"2012-2015","t":2.55,"v":266.8},{"s":"2012-2015","t":2.69,"v":269.7},{"s":"2012-2015","t":2.9,"v":265.4},{"s":"2012-2015","t":3.24,"v":250.9},{"s":"2012-2015","t":3.49,"v":251.5},{"s":"2012-2015","t":3.59,"v":255.6},{"s":"2012-2015","t":3.73,"v":258.8},{"s":"2012-2015","t":3.94,"v":261},{"s":"2012-2015","t":4.19,"v":265},{"s":"2012-2015","t":4.64,"v":265.4},{"s":"2012-2015","t":4.99,"v":269.7},{"s":"2012-2015","t":5.34,"v":266.8},{"s":"2012-2015","t":5.82,"v":264.6},{"s":"2012-2015","t":6.17,"v":266.8},{"s":"2012-2015","t":6.52,"v":265},{"s":"2012-2015","t":6.73,"v":267.9},{"s":"2012-2015","t":6.98,"v":265.4},{"s":"2012-2015","t":7.43,"v":269},{"s":"2012-2015","t":7.92,"v":271.2},{"s":"2012-2015","t":8.37,"v":270.5},{"s":"2012-2015","t":8.82,"v":271.9},{"s":"2012-2015","t":9.31,"v":273.3},{"s":"2012-2015","t":9.77,"v":274.1},{"s":"2012-2015","t":10.22,"v":270.5},{"s":"2012-2015","t":10.71,"v":268.7},{"s":"2012-2015","t":11.16,"v":270.5},{"s":"2012-2015","t":11.61,"v":272.3},{"s":"2012-2015","t":12.1,"v":271.6},{"s":"2012-2015","t":12.45,"v":271.9},{"s":"2012-2015","t":12.8,"v":265.4},{"s":"2012-2015","t":13.15,"v":264},{"s":"2012-2015","t":13.36,"v":267.6},{"s":"2012-2015","t":13.6,"v":271.6},{"s":"2012-2015","t":13.95,"v":263.5},{"s":"2012-2015","t":14.3,"v":256.3},{"s":"2012-2015","t":14.65,"v":250.9},{"s":"2012-2015","t":14.89,"v":253},{"s":"2012-2015","t":15.1,"v":258.1},{"s":"2012-2015","t":15.35,"v":262.4},{"s":"2012-2015","t":15.7,"v":262.1},{"s":"2012-2015","t":15.94,"v":263.5},{"s":"2012-2015","t":16.29,"v":272.7},{"s":"2012-2015","t":16.5,"v":270.3},{"s":"2012-2015","t":16.74,"v":270.8},{"s":"2012-2015","t":17.2,"v":272.7},{"s":"2012-2015","t":17.68,"v":271.9},{"s":"2012-2015","t":18.14,"v":272.7},{"s":"2012-2015","t":18.59,"v":274.9},{"s":"2012-2015","t":19.08,"v":274.1},{"s":"2012-2015","t":19.53,"v":272.7},{"s":"2012-2015","t":19.99,"v":272.3},{"s":"2012-2015","t":20.47,"v":272.7},{"s":"2012-2015","t":20.93,"v":273.3},{"s":"2012-2015","t":21.38,"v":272.7},{"s":"2012-2015","t":21.87,"v":274.9},{"s":"2012-2015","t":22.32,"v":272.7},{"s":"2012-2015","t":22.78,"v":268.3},{"s":"2012-2015","t":23.02,"v":269.7},{"s":"2012-2015","t":23.47,"v":271.2},
{"s":"2014-2017","t":0,"v":271.9},{"s":"2014-2017","t":0.45,"v":270.5},{"s":"2014-2017","t":0.8,"v":273.3},{"s":"2014-2017","t":1.15,"v":271.9},{"s":"2014-2017","t":1.57,"v":270.3},{"s":"2014-2017","t":1.85,"v":269.7},{"s":"2014-2017","t":2.34,"v":265.4},{"s":"2014-2017","t":2.62,"v":259.9},{"s":"2014-2017","t":2.9,"v":255.9},{"s":"2014-2017","t":3.24,"v":250.9},{"s":"2014-2017","t":3.49,"v":250.1},{"s":"2014-2017","t":3.73,"v":248.2},{"s":"2014-2017","t":3.94,"v":252.3},{"s":"2014-2017","t":4.19,"v":259.6},{"s":"2014-2017","t":4.43,"v":262.1},{"s":"2014-2017","t":4.64,"v":262.4},{"s":"2014-2017","t":5.13,"v":261.8},{"s":"2014-2017","t":5.34,"v":259.9},{"s":"2014-2017","t":5.58,"v":263.2},{"s":"2014-2017","t":5.82,"v":266.8},{"s":"2014-2017","t":6.17,"v":265.9},{"s":"2014-2017","t":6.52,"v":266.8},{"s":"2014-2017","t":6.98,"v":267.6},{"s":"2014-2017","t":7.43,"v":268.7},{"s":"2014-2017","t":8.13,"v":268.3},{"s":"2014-2017","t":8.82,"v":266.8},{"s":"2014-2017","t":9.24,"v":268.7},{"s":"2014-2017","t":9.52,"v":270.5},{"s":"2014-2017","t":10.01,"v":273.3},{"s":"2014-2017","t":10.46,"v":271.4},{"s":"2014-2017","t":10.92,"v":269},{"s":"2014-2017","t":11.41,"v":268.3},{"s":"2014-2017","t":11.86,"v":270.8},{"s":"2014-2017","t":12.31,"v":273},{"s":"2014-2017","t":12.8,"v":267.6},{"s":"2014-2017","t":13.01,"v":266.8},{"s":"2014-2017","t":13.5,"v":267.6},{"s":"2014-2017","t":13.85,"v":264.3},{"s":"2014-2017","t":14.2,"v":261.8},{"s":"2014-2017","t":14.65,"v":262.1},{"s":"2014-2017","t":15,"v":258.1},{"s":"2014-2017","t":15.35,"v":247.9},{"s":"2014-2017","t":15.59,"v":245},{"s":"2014-2017","t":15.87,"v":245},{"s":"2014-2017","t":16.22,"v":245.5},{"s":"2014-2017","t":16.5,"v":245.7},{"s":"2014-2017","t":16.74,"v":247.9},{"s":"2014-2017","t":16.99,"v":250.9},{"s":"2014-2017","t":17.34,"v":251.2},{"s":"2014-2017","t":17.68,"v":254.5},{"s":"2014-2017","t":17.89,"v":258.1},{"s":"2014-2017","t":18.14,"v":256.3},{"s":"2014-2017","t":18.49,"v":249},{"s":"2014-2017","t":18.73,"v":248.2},{"s":"2014-2017","t":18.94,"v":250.1},{"s":"2014-2017","t":19.08,"v":254.5},{"s":"2014-2017","t":19.29,"v":257.4},{"s":"2014-2017","t":19.53,"v":258.1},{"s":"2014-2017","t":19.78,"v":262.4},{"s":"2014-2017","t":19.99,"v":258.1},{"s":"2014-2017","t":20.23,"v":254.5},{"s":"2014-2017","t":20.47,"v":258.1},{"s":"2014-2017","t":20.68,"v":261.8},{"s":"2014-2017","t":20.93,"v":258.1},{"s":"2014-2017","t":21.17,"v":255.2},{"s":"2014-2017","t":21.38,"v":257.7},{"s":"2014-2017","t":21.63,"v":260.2},{"s":"2014-2017","t":21.87,"v":261},{"s":"2014-2017","t":22.08,"v":260.5},{"s":"2014-2017","t":22.32,"v":258.1},{"s":"2014-2017","t":22.57,"v":250.9},{"s":"2014-2017","t":22.78,"v":239.5},{"s":"2014-2017","t":23.02,"v":238.9},{"s":"2014-2017","t":23.26,"v":237},{"s":"2014-2017","t":23.47,"v":235.6},{"s":"2014-2017","t":23.72,"v":237},{"s":"2014-2017","t":23.82,"v":238.1},{"s":"2014-2017","t":23.96,"v":239.5},{"s":"2014-2017","t":24.17,"v":234.1},{"s":"2014-2017","t":24.42,"v":234.8},{"s":"2014-2017","t":24.66,"v":237.3},{"s":"2014-2017","t":24.87,"v":239.5},{"s":"2014-2017","t":25.01,"v":241},{"s":"2014-2017","t":25.22,"v":241},{"s":"2014-2017","t":25.46,"v":236.7},{"s":"2014-2017","t":25.57,"v":227.5},{"s":"2014-2017","t":25.71,"v":224.2},{"s":"2014-2017","t":25.81,"v":221},{"s":"2014-2017","t":25.92,"v":223.9},{"s":"2014-2017","t":26.06,"v":231.2},{"s":"2014-2017","t":26.16,"v":234.5},{"s":"2014-2017","t":26.26,"v":238.9},{"s":"2014-2017","t":26.4,"v":242.1},{"s":"2014-2017","t":26.58,"v":242.5},{"s":"2014-2017","t":26.68,"v":243.9},{"s":"2014-2017","t":26.75,"v":246.8},{"s":"2014-2017","t":26.86,"v":244.6},{"s":"2014-2017","t":27.1,"v":244.6},{"s":"2014-2017","t":27.31,"v":246.1},{"s":"2014-2017","t":27.55,"v":250.4},{"s":"2014-2017","t":27.9,"v":254.1},{"s":"2014-2017","t":28.25,"v":261.3},{"s":"2014-2017","t":28.6,"v":268.7},{"s":"2014-2017","t":29.05,"v":271.2},{"s":"2014-2017","t":29.54,"v":272.3},{"s":"2014-2017","t":30.17,"v":272.5},{"s":"2014-2017","t":30.69,"v":273.6},{"s":"2014-2017","t":30.94,"v":274.4},{"s":"2014-2017","t":31.39,"v":277.1},{"s":"2014-2017","t":31.84,"v":276.3},{"s":"2014-2017","t":32.54,"v":276.6},{"s":"2014-2017","t":33.03,"v":275.7},{"s":"2014-2017","t":33.48,"v":276.3},{"s":"2014-2017","t":33.94,"v":278.1},{"s":"2014-2017","t":34.29,"v":277.9},{"s":"2014-2017","t":34.64,"v":275.2},{"s":"2014-2017","t":35.12,"v":273.6},{"s":"2014-2017","t":35.58,"v":276},{"s":"2014-2017","t":36.03,"v":274.1},{"s":"2014-2017","t":36.52,"v":274.4},{"s":"2014-2017","t":36.94,"v":274.7},
{"s":"2015-2018","t":0,"v":272.3},{"s":"2015-2018","t":0.35,"v":274.1},{"s":"2015-2018","t":0.7,"v":269.7},{"s":"2015-2018","t":1.05,"v":266.8},{"s":"2015-2018","t":1.29,"v":269},{"s":"2015-2018","t":1.5,"v":271.2},{"s":"2015-2018","t":1.74,"v":267.6},{"s":"2015-2018","t":2.09,"v":265},{"s":"2015-2018","t":2.34,"v":263.2},{"s":"2015-2018","t":2.62,"v":259.9},{"s":"2015-2018","t":2.9,"v":258.3},{"s":"2015-2018","t":3.14,"v":255.9},{"s":"2015-2018","t":3.35,"v":252.3},{"s":"2015-2018","t":3.49,"v":248.7},{"s":"2015-2018","t":3.66,"v":245.7},{"s":"2015-2018","t":3.84,"v":245},{"s":"2015-2018","t":4.19,"v":245.2},{"s":"2015-2018","t":4.53,"v":246.5},{"s":"2015-2018","t":4.78,"v":241.4},{"s":"2015-2018","t":4.95,"v":247.9},{"s":"2015-2018","t":5.23,"v":251.9},{"s":"2015-2018","t":5.48,"v":245.7},{"s":"2015-2018","t":5.69,"v":241},{"s":"2015-2018","t":5.93,"v":247.9},{"s":"2015-2018","t":6.17,"v":254.5},{"s":"2015-2018","t":6.38,"v":258.8},{"s":"2015-2018","t":6.73,"v":249.5},{"s":"2015-2018","t":6.98,"v":248.8},{"s":"2015-2018","t":7.32,"v":256.6},{"s":"2015-2018","t":7.67,"v":261},{"s":"2015-2018","t":7.92,"v":263.2},{"s":"2015-2018","t":8.27,"v":254.5},{"s":"2015-2018","t":8.55,"v":259.9},{"s":"2015-2018","t":8.72,"v":262.4},{"s":"2015-2018","t":9.17,"v":255.2},{"s":"2015-2018","t":9.52,"v":259.6},{"s":"2015-2018","t":9.87,"v":261.3},{"s":"2015-2018","t":10.22,"v":259.6},{"s":"2015-2018","t":10.46,"v":256.6},{"s":"2015-2018","t":10.71,"v":247.9},{"s":"2015-2018","t":10.92,"v":239.5},{"s":"2015-2018","t":11.16,"v":239.2},{"s":"2015-2018","t":11.34,"v":237.5},{"s":"2015-2018","t":11.51,"v":235.6},{"s":"2015-2018","t":11.75,"v":239.2},{"s":"2015-2018","t":11.96,"v":238.4},{"s":"2015-2018","t":12.21,"v":235.9},{"s":"2015-2018","t":12.31,"v":234.1},{"s":"2015-2018","t":12.56,"v":236.2},{"s":"2015-2018","t":12.91,"v":241},{"s":"2015-2018","t":13.25,"v":241},{"s":"2015-2018","t":13.6,"v":236.2},{"s":"2015-2018","t":13.74,"v":230.5},{"s":"2015-2018","t":13.85,"v":221.4},{"s":"2015-2018","t":13.95,"v":223.9},{"s":"2015-2018","t":14.06,"v":231.2},{"s":"2015-2018","t":14.2,"v":238.1},{"s":"2015-2018","t":14.41,"v":241.7},{"s":"2015-2018","t":14.65,"v":241.4},{"s":"2015-2018","t":14.89,"v":246.8},{"s":"2015-2018","t":15,"v":244.6},{"s":"2015-2018","t":15.24,"v":245.4},{"s":"2015-2018","t":15.45,"v":249},{"s":"2015-2018","t":15.59,"v":253},{"s":"2015-2018","t":15.8,"v":255.2},{"s":"2015-2018","t":16.04,"v":257.4},{"s":"2015-2018","t":16.15,"v":261.8},{"s":"2015-2018","t":16.29,"v":264},{"s":"2015-2018","t":16.5,"v":266.1},{"s":"2015-2018","t":16.74,"v":266.8},{"s":"2015-2018","t":16.85,"v":269.7},{"s":"2015-2018","t":17.09,"v":272.7},{"s":"2015-2018","t":17.44,"v":272.5},{"s":"2015-2018","t":17.68,"v":271.2},{"s":"2015-2018","t":17.96,"v":273},{"s":"2015-2018","t":18.24,"v":276},{"s":"2015-2018","t":18.56,"v":274.7},{"s":"2015-2018","t":18.83,"v":273.3},{"s":"2015-2018","t":19.08,"v":273.6},{"s":"2015-2018","t":19.29,"v":276.3},{"s":"2015-2018","t":19.78,"v":276.6},{"s":"2015-2018","t":20.06,"v":275.7},{"s":"2015-2018","t":20.47,"v":275.2},{"s":"2015-2018","t":20.82,"v":276.3},{"s":"2015-2018","t":21.17,"v":277.1},{"s":"2015-2018","t":21.38,"v":275.2},{"s":"2015-2018","t":21.73,"v":276.3},{"s":"2015-2018","t":21.97,"v":278.1},{"s":"2015-2018","t":22.22,"v":278.5},{"s":"2015-2018","t":22.57,"v":277.7},{"s":"2015-2018","t":22.92,"v":275.5},{"s":"2015-2018","t":23.13,"v":273},{"s":"2015-2018","t":23.37,"v":274.4},{"s":"2015-2018","t":23.72,"v":275.2},{"s":"2015-2018","t":24.07,"v":276},{"s":"2015-2018","t":24.42,"v":273.3},{"s":"2015-2018","t":24.76,"v":274.9},{"s":"2015-2018","t":25.11,"v":274.1},{"s":"2015-2018","t":25.36,"v":269.7},{"s":"2015-2018","t":25.57,"v":267.9},{"s":"2015-2018","t":25.81,"v":269.4},{"s":"2015-2018","t":26.16,"v":267.2},{"s":"2015-2018","t":26.51,"v":263.5},{"s":"2015-2018","t":26.86,"v":259.6},{"s":"2015-2018","t":27.1,"v":256.3},{"s":"2015-2018","t":27.28,"v":251.2},{"s":"2015-2018","t":27.45,"v":249.8},{"s":"2015-2018","t":27.62,"v":247.1},{"s":"2015-2018","t":27.76,"v":251.2},{"s":"2015-2018","t":27.9,"v":252.6},{"s":"2015-2018","t":28.01,"v":257.7},{"s":"2015-2018","t":28.18,"v":262.1},{"s":"2015-2018","t":28.36,"v":267.9},{"s":"2015-2018","t":28.71,"v":269.4},{"s":"2015-2018","t":29.05,"v":267.6},{"s":"2015-2018","t":29.23,"v":270.1},{"s":"2015-2018","t":29.4,"v":271.2},{"s":"2015-2018","t":29.75,"v":271.9},{"s":"2015-2018","t":30.1,"v":269.7},{"s":"2015-2018","t":30.45,"v":271.9},{"s":"2015-2018","t":30.94,"v":270.8},{"s":"2015-2018","t":31.39,"v":273.8},{"s":"2015-2018","t":31.84,"v":272.7},{"s":"2015-2018","t":32.09,"v":271.9},{"s":"2015-2018","t":32.44,"v":274.1},{"s":"2015-2018","t":32.79,"v":273},{"s":"2015-2018","t":33.24,"v":276},{"s":"2015-2018","t":33.59,"v":274.9},{"s":"2015-2018","t":33.76,"v":274.4}
],
"clim":[
{"s":"Clim","t":0.05,"v":263.7},{"s":"Clim","t":1.05,"v":261.9},{"s":"Clim","t":2.05,"v":256.4},{"s":"Clim","t":3.05,"v":254.2},{"s":"Clim","t":4.05,"v":261.8},{"s":"Clim","t":5.05,"v":265.9},{"s":"Clim","t":6.05,"v":268.1},{"s":"Clim","t":7.05,"v":270.3},{"s":"Clim","t":8.05,"v":270.6},{"s":"Clim","t":9.05,"v":270.3},{"s":"Clim","t":10.05,"v":267.8},{"s":"Clim","t":11.05,"v":264.7},
{"s":"Clim","t":12.05,"v":263.7},{"s":"Clim","t":13.05,"v":261.9},{"s":"Clim","t":14.05,"v":256.4},{"s":"Clim","t":15.05,"v":254.2},{"s":"Clim","t":16.05,"v":261.8},{"s":"Clim","t":17.05,"v":265.9},{"s":"Clim","t":18.05,"v":268.1},{"s":"Clim","t":19.05,"v":270.3},{"s":"Clim","t":20.05,"v":270.6},{"s":"Clim","t":21.05,"v":270.3},{"s":"Clim","t":22.05,"v":267.8},{"s":"Clim","t":23.05,"v":264.7},
{"s":"Clim","t":24.05,"v":263.7},{"s":"Clim","t":25.05,"v":261.9},{"s":"Clim","t":26.05,"v":256.4},{"s":"Clim","t":27.05,"v":254.2},{"s":"Clim","t":28.05,"v":261.8},{"s":"Clim","t":29.05,"v":265.9},{"s":"Clim","t":30.05,"v":268.1},{"s":"Clim","t":31.05,"v":270.3},{"s":"Clim","t":32.05,"v":270.6},{"s":"Clim","t":33.05,"v":270.3},{"s":"Clim","t":34.05,"v":267.8},{"s":"Clim","t":35.05,"v":264.7},
{"s":"Clim","t":36.05,"v":263.7},{"s":"Clim","t":37.05,"v":261.9}
],
"labels":[
{"s":"1982-1985","label":"1982","t":11.34,"v":210.3},
{"s":"1997-2000","label":"1997","t":10.57,"v":218.2},
{"s":"2015-2018","label":"2015","t":11.68,"v":233.7},
{"s":"2015-2018","label":"2016","t":13.15,"v":231.0}
]
},
"layer":[
{"layer":[
{"data":{"name":"olr"},"transform":[{"filter":"datum.s != '2015-2018'"}],
"mark":{"type":"line","strokeWidth":2.2,"clip":true},
"encoding":{
"x":{"field":"t","type":"quantitative","scale":{"domain":[0,36.94],"nice":false,"zero":false},
"axis":{"values":[0,5.95,12,17.95,24,29.95,36],"labelExpr":"datum.value % 12 == 0 ? 'JAN' : 'JUL'","labelFontSize":20,"tickSize":8,"labelPadding":4,"labelFlush":false,"labelOverlap":false,"title":"* 15-day running mean. Data: ESRL/NOAA, Processing: IGP","titleFontSize":18,"titleFontWeight":"normal","titleAlign":"left","titleBaseline":"middle","titleX":8,"titleY":59}},
"y":{"field":"v","type":"quantitative","scale":{"domain":[195.2,280],"reverse":true,"nice":false,"zero":false},
"axis":{"values":[200,210,220,230,240,250,260,270,280],"labelFontSize":30,"tickSize":8,"labelPadding":3,"labelFlush":false,"labelOverlap":false,"title":null}},
"color":{"field":"s","type":"nominal",
"scale":{"domain":["1982-1985","1986-1989","1991-1994","1997-2000","2002-2005","2006-2009","2009-2012","2012-2015","2014-2017","2015-2018"],
"range":["#fa3c3c","#e6dc32","#a000c8","#1e3cff","#e6af2d","#f00082","#00dc00","#00c8c8","#f08228","#000000"]},
"legend":{"legendX":18,"legendY":26,"symbolType":"M-3,0H3"}}
}},
{"data":{"name":"olr"},"transform":[{"filter":"datum.s == '2015-2018'"}],
"mark":{"type":"line","strokeWidth":3.8,"clip":true},
"encoding":{
"x":{"field":"t","type":"quantitative"},
"y":{"field":"v","type":"quantitative"},
"color":{"field":"s","type":"nominal"}
}},
{"data":{"name":"labels"},
"mark":{"type":"text","font":"DejaVu Sans","fontSize":24,"align":"center","baseline":"middle"},
"encoding":{
"x":{"field":"t","type":"quantitative"},
"y":{"field":"v","type":"quantitative"},
"text":{"field":"label"},
"color":{"field":"s","type":"nominal"}
}}
]},
{"data":{"name":"clim"},
"mark":{"type":"line","strokeWidth":2,"clip":true,"point":{"filled":false,"fill":"white","size":45,"strokeWidth":1.5}},
"encoding":{
"x":{"field":"t","type":"quantitative"},
"y":{"field":"v","type":"quantitative",
"axis":{"orient":"right","labels":false,"ticks":false,"domain":false,"grid":false,"title":"Last data: 07NOV2017","titleAngle":0,"titleAlign":"right","titleBaseline":"middle","titleX":-7,"titleY":836,"titleFontSize":18,"titleFontWeight":"normal"}},
"color":{"field":"s","type":"nominal","scale":{"domain":["Clim"],"range":["#aaaaaa"]},"legend":{"legendX":18,"legendY":328,"symbolType":"M-3,0H3"}}
}}
],
"resolve":{"scale":{"color":"independent"},"axis":{"y":"independent"}}
}
